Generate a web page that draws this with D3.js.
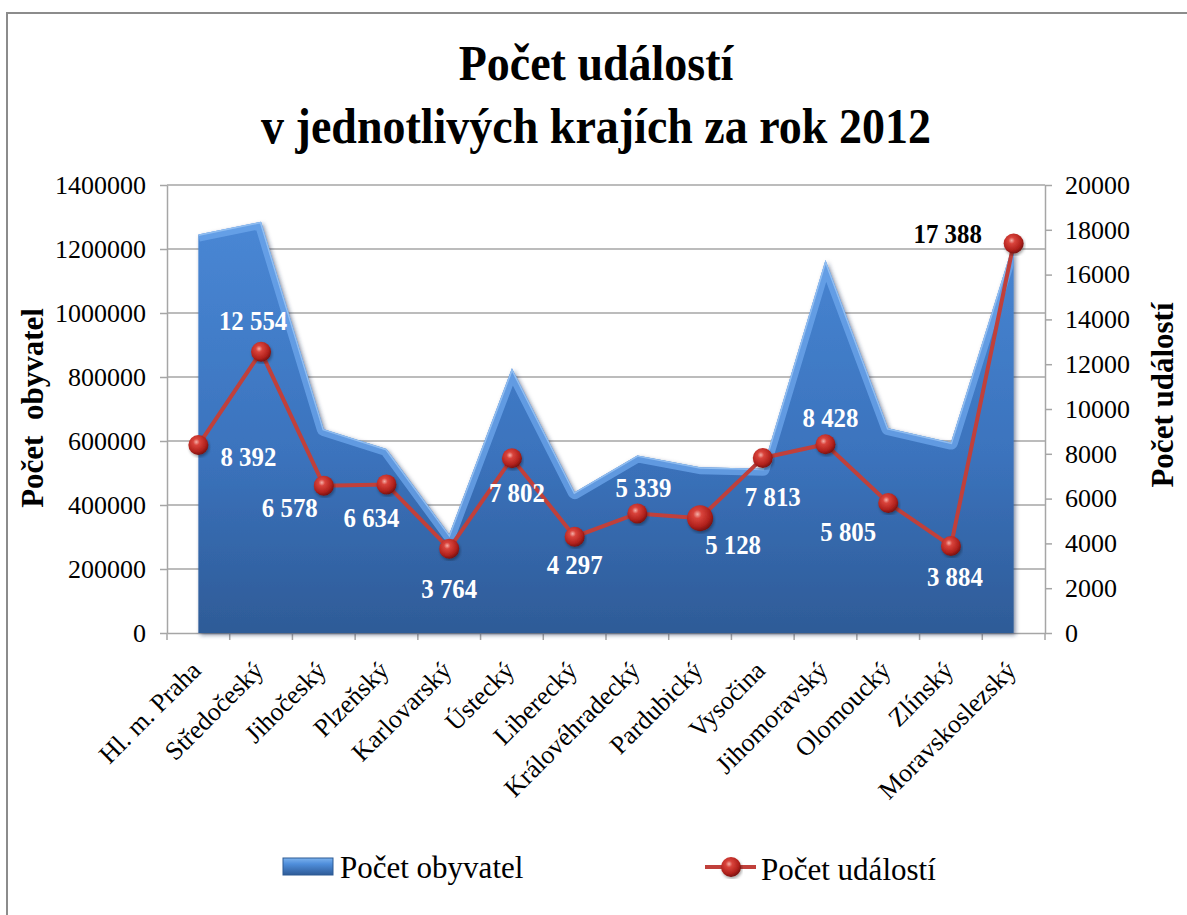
<!DOCTYPE html>
<html>
<head>
<meta charset="utf-8">
<script src="https://cdn.jsdelivr.net/npm/d3@7"></script>
<style>
  body { margin: 0; background: #fff; }
  svg { display: block; font-family: "Liberation Serif", "Times New Roman", serif; }
</style>
</head>
<body>
<script>
/* data */
const regions = ['Hl. m. Praha', 'Středočeský', 'Jihočeský', 'Plzeňský', 'Karlovarský', 'Ústecký',
  'Liberecký', 'Královéhradecký', 'Pardubický', 'Vysočina', 'Jihomoravský', 'Olomoucký', 'Zlínský',
  'Moravskoslezský'];
const population = [1245000, 1285000, 637000, 575000, 308000, 827000, 440000, 555000, 518000, 513000,
  1166000, 640000, 595000, 1220000];
const events = [8392, 12554, 6578, 6634, 3764, 7802, 4297, 5339, 5128, 7813, 8428, 5805, 3884, 17388];
const leftTicks = [0, 200000, 400000, 600000, 800000, 1000000, 1200000, 1400000];
const rightTicks = [0, 2000, 4000, 6000, 8000, 10000, 12000, 14000, 16000, 18000, 20000];

// manual label offsets (like the hand-placed labels in the original)
const labelOffsets = [[50, 12], [-8, -31], [-34, 23], [-15, 34], [0, 40], [5, 35], [0, 28],
  [6, -25], [33, 27], [10, 39], [5, -26], [-40, 29], [4, 31], [-66, -9]];
const bigPoint = 8; // the one enlarged marker (Pardubický)

const W = 1187, H = 915;
const margin = { top: 185, left: 167, right: 1045, bottom: 633 };

const svg = d3.select('body').append('svg')
  .attr('width', W)
  .attr('height', H);

/* scales */
const x = d3.scaleBand().domain(regions).range([margin.left, margin.right]);
const cx = d => x(d) + x.bandwidth() / 2;
const yL = d3.scaleLinear().domain([0, 1400000]).range([margin.bottom, margin.top]);
const yR = d3.scaleLinear().domain([0, 20000]).range([margin.bottom, margin.top]);
const fmt = v => d3.format(',')(v).replace(/,/g, '\u00a0');

/* defs: gradients, shadow */
const defs = svg.append('defs');
const areaGrad = defs.append('linearGradient').attr('id', 'areaGrad')
  .attr('gradientUnits', 'userSpaceOnUse')
  .attr('x1', 0).attr('x2', 0).attr('y1', margin.top).attr('y2', margin.bottom);
areaGrad.append('stop').attr('offset', '0%').attr('stop-color', '#4b8ad8');
areaGrad.append('stop').attr('offset', '60%').attr('stop-color', '#3b73bd');
areaGrad.append('stop').attr('offset', '100%').attr('stop-color', '#2e5b97');

const ballGrad = defs.append('radialGradient').attr('id', 'ballGrad')
  .attr('cx', '40%').attr('cy', '35%').attr('r', '65%');
ballGrad.append('stop').attr('offset', '0%').attr('stop-color', '#f4b0a8');
ballGrad.append('stop').attr('offset', '25%').attr('stop-color', '#d9433b');
ballGrad.append('stop').attr('offset', '75%').attr('stop-color', '#b0211c');
ballGrad.append('stop').attr('offset', '100%').attr('stop-color', '#7a1210');

const swatchGrad = defs.append('linearGradient').attr('id', 'swatchGrad')
  .attr('x1', 0).attr('x2', 0).attr('y1', 0).attr('y2', 1);
swatchGrad.append('stop').attr('offset', '0%').attr('stop-color', '#7db3ee');
swatchGrad.append('stop').attr('offset', '35%').attr('stop-color', '#4f8edb');
swatchGrad.append('stop').attr('offset', '100%').attr('stop-color', '#2e5b97');

const shadow = defs.append('filter').attr('id', 'shadow')
  .attr('x', '-10%').attr('y', '-10%').attr('width', '120%').attr('height', '120%');
shadow.append('feDropShadow').attr('dx', 2).attr('dy', 2).attr('stdDeviation', 2)
  .attr('flood-color', '#1a2f55').attr('flood-opacity', 0.55);

const ballShadow = defs.append('filter').attr('id', 'ballShadow');
ballShadow.append('feDropShadow').attr('dx', 1).attr('dy', 2).attr('stdDeviation', 1.5)
  .attr('flood-color', '#000').attr('flood-opacity', 0.35);

/* frame */
svg.append('rect')
  .attr('x', 7).attr('y', 13).attr('width', 1300).attr('height', 1000)
  .attr('fill', 'none').attr('stroke', '#8c8c8c').attr('stroke-width', 2);

/* title */
const title = svg.append('g').attr('font-weight', 'bold').attr('font-size', 50).attr('fill', '#000');
[['Počet událostí', 80], ['v jednotlivých krajích za rok 2012', 143]].forEach(([t, yy]) => {
  title.append('text')
    .attr('transform', `translate(596,${yy}) scale(0.92,1)`)
    .attr('text-anchor', 'middle')
    .text(t);
});

/* gridlines */
svg.append('g').selectAll('line')
  .data(leftTicks.slice(1))
  .enter().append('line')
  .attr('x1', margin.left).attr('x2', margin.right)
  .attr('y1', d => yL(d)).attr('y2', d => yL(d))
  .attr('stroke', '#a6a6a6').attr('stroke-width', 1.5);

/* axes */
const axisStyle = g => {
  g.select('.domain').attr('stroke', '#a6a6a6').attr('stroke-width', 1.5);
  g.selectAll('.tick line').attr('stroke', '#a6a6a6').attr('stroke-width', 1.5);
  g.selectAll('.tick text').attr('font-family', '"Liberation Serif", "Times New Roman", serif')
    .attr('font-size', 26).attr('fill', '#000');
};

svg.append('g')
  .attr('transform', `translate(${margin.left},0)`)
  .call(d3.axisLeft(yL).tickValues(leftTicks).tickFormat(d3.format('d')).tickSize(7).tickPadding(14).tickSizeOuter(0))
  .call(axisStyle);

svg.append('g')
  .attr('transform', `translate(${margin.right},0)`)
  .call(d3.axisRight(yR).tickValues(rightTicks).tickFormat(d3.format('d')).tickSize(7).tickPadding(13).tickSizeOuter(0))
  .call(axisStyle);

const xAxisG = svg.append('g')
  .attr('transform', `translate(0,${margin.bottom})`)
  .call(d3.axisBottom(x).tickSize(7).tickSizeOuter(0).tickFormat(''));
xAxisG.call(axisStyle);
// Excel puts the category ticks on the band edges
xAxisG.selectAll('.tick').remove();
xAxisG.selectAll('.edge')
  .data(d3.range(regions.length + 1))
  .enter().append('line')
  .attr('x1', i => margin.left + i * x.bandwidth()).attr('x2', i => margin.left + i * x.bandwidth())
  .attr('y1', 0).attr('y2', 7)
  .attr('stroke', '#a6a6a6').attr('stroke-width', 1.5);

/* category labels */
svg.append('g').selectAll('text')
  .data(regions)
  .enter().append('text')
  .attr('transform', d => `translate(${cx(d) + 4},672) rotate(-45)`)
  .attr('text-anchor', 'end')
  .attr('font-size', 26)
  .text(d => d);

/* axis titles */
svg.append('text')
  .attr('transform', 'translate(43,408) rotate(-90)')
  .attr('text-anchor', 'middle')
  .attr('font-weight', 'bold').attr('font-size', 31)
  .attr('xml:space', 'preserve')
  .style('white-space', 'pre')
  .text('Počet  obyvatel');

svg.append('text')
  .attr('transform', 'translate(1173,395) rotate(-90)')
  .attr('text-anchor', 'middle')
  .attr('font-weight', 'bold').attr('font-size', 31)
  .text('Počet událostí');

/* area: population */
const areaGen = d3.area()
  .x((d, i) => cx(regions[i]))
  .y0(yL(0))
  .y1(d => yL(d));
const topLine = d3.line()
  .x((d, i) => cx(regions[i]))
  .y(d => yL(d));

defs.append('clipPath').attr('id', 'areaClip')
  .append('path').attr('d', areaGen(population));

svg.append('path')
  .attr('d', areaGen(population))
  .attr('fill', 'url(#areaGrad)')
  .attr('filter', 'url(#shadow)');

// bevel highlight along the top edge
svg.append('path')
  .attr('d', topLine(population))
  .attr('clip-path', 'url(#areaClip)')
  .attr('fill', 'none')
  .attr('stroke', '#6ea7ec')
  .attr('stroke-width', 14)
  .attr('stroke-linejoin', 'round')
  .attr('opacity', 0.75);
svg.append('path')
  .attr('d', topLine(population))
  .attr('clip-path', 'url(#areaClip)')
  .attr('fill', 'none')
  .attr('stroke', '#9cc6f4')
  .attr('stroke-width', 3)
  .attr('opacity', 0.8);

/* line: events */
const evLine = d3.line()
  .x((d, i) => cx(regions[i]))
  .y(d => yR(d));

svg.append('path')
  .attr('d', evLine(events))
  .attr('fill', 'none')
  .attr('stroke', '#c0403b')
  .attr('stroke-width', 4);

svg.append('g').selectAll('circle')
  .data(events)
  .enter().append('circle')
  .attr('cx', (d, i) => cx(regions[i]))
  .attr('cy', d => yR(d))
  .attr('r', (d, i) => i === bigPoint ? 13 : 10)
  .attr('fill', 'url(#ballGrad)')
  .attr('filter', 'url(#ballShadow)');

/* data labels */
svg.append('g').selectAll('text')
  .data(events)
  .enter().append('text')
  .attr('transform', (d, i) => `translate(${cx(regions[i]) + labelOffsets[i][0]},${yR(d) + labelOffsets[i][1]}) scale(0.92,1)`)
  .attr('text-anchor', 'middle')
  .attr('dominant-baseline', 'central')
  .attr('font-weight', 'bold')
  .attr('font-size', 27)
  .attr('fill', (d, i) => i === events.length - 1 ? '#000' : '#fff')
  .text(d => fmt(d));

/* legend */
const legend = svg.append('g');
legend.append('rect')
  .attr('x', 283).attr('y', 858).attr('width', 50).attr('height', 17)
  .attr('fill', 'url(#swatchGrad)')
  .attr('stroke', '#2c5a94').attr('stroke-width', 1);
legend.append('text')
  .attr('x', 340).attr('y', 878)
  .attr('font-size', 31)
  .text('Počet obyvatel');

legend.append('line')
  .attr('x1', 705).attr('x2', 756).attr('y1', 867).attr('y2', 867)
  .attr('stroke', '#c0403b').attr('stroke-width', 4);
legend.append('circle')
  .attr('cx', 731).attr('cy', 867).attr('r', 10)
  .attr('fill', 'url(#ballGrad)')
  .attr('filter', 'url(#ballShadow)');
legend.append('text')
  .attr('x', 761).attr('y', 880)
  .attr('font-size', 31)
  .text('Počet událostí');
</script>
</body>
</html>
